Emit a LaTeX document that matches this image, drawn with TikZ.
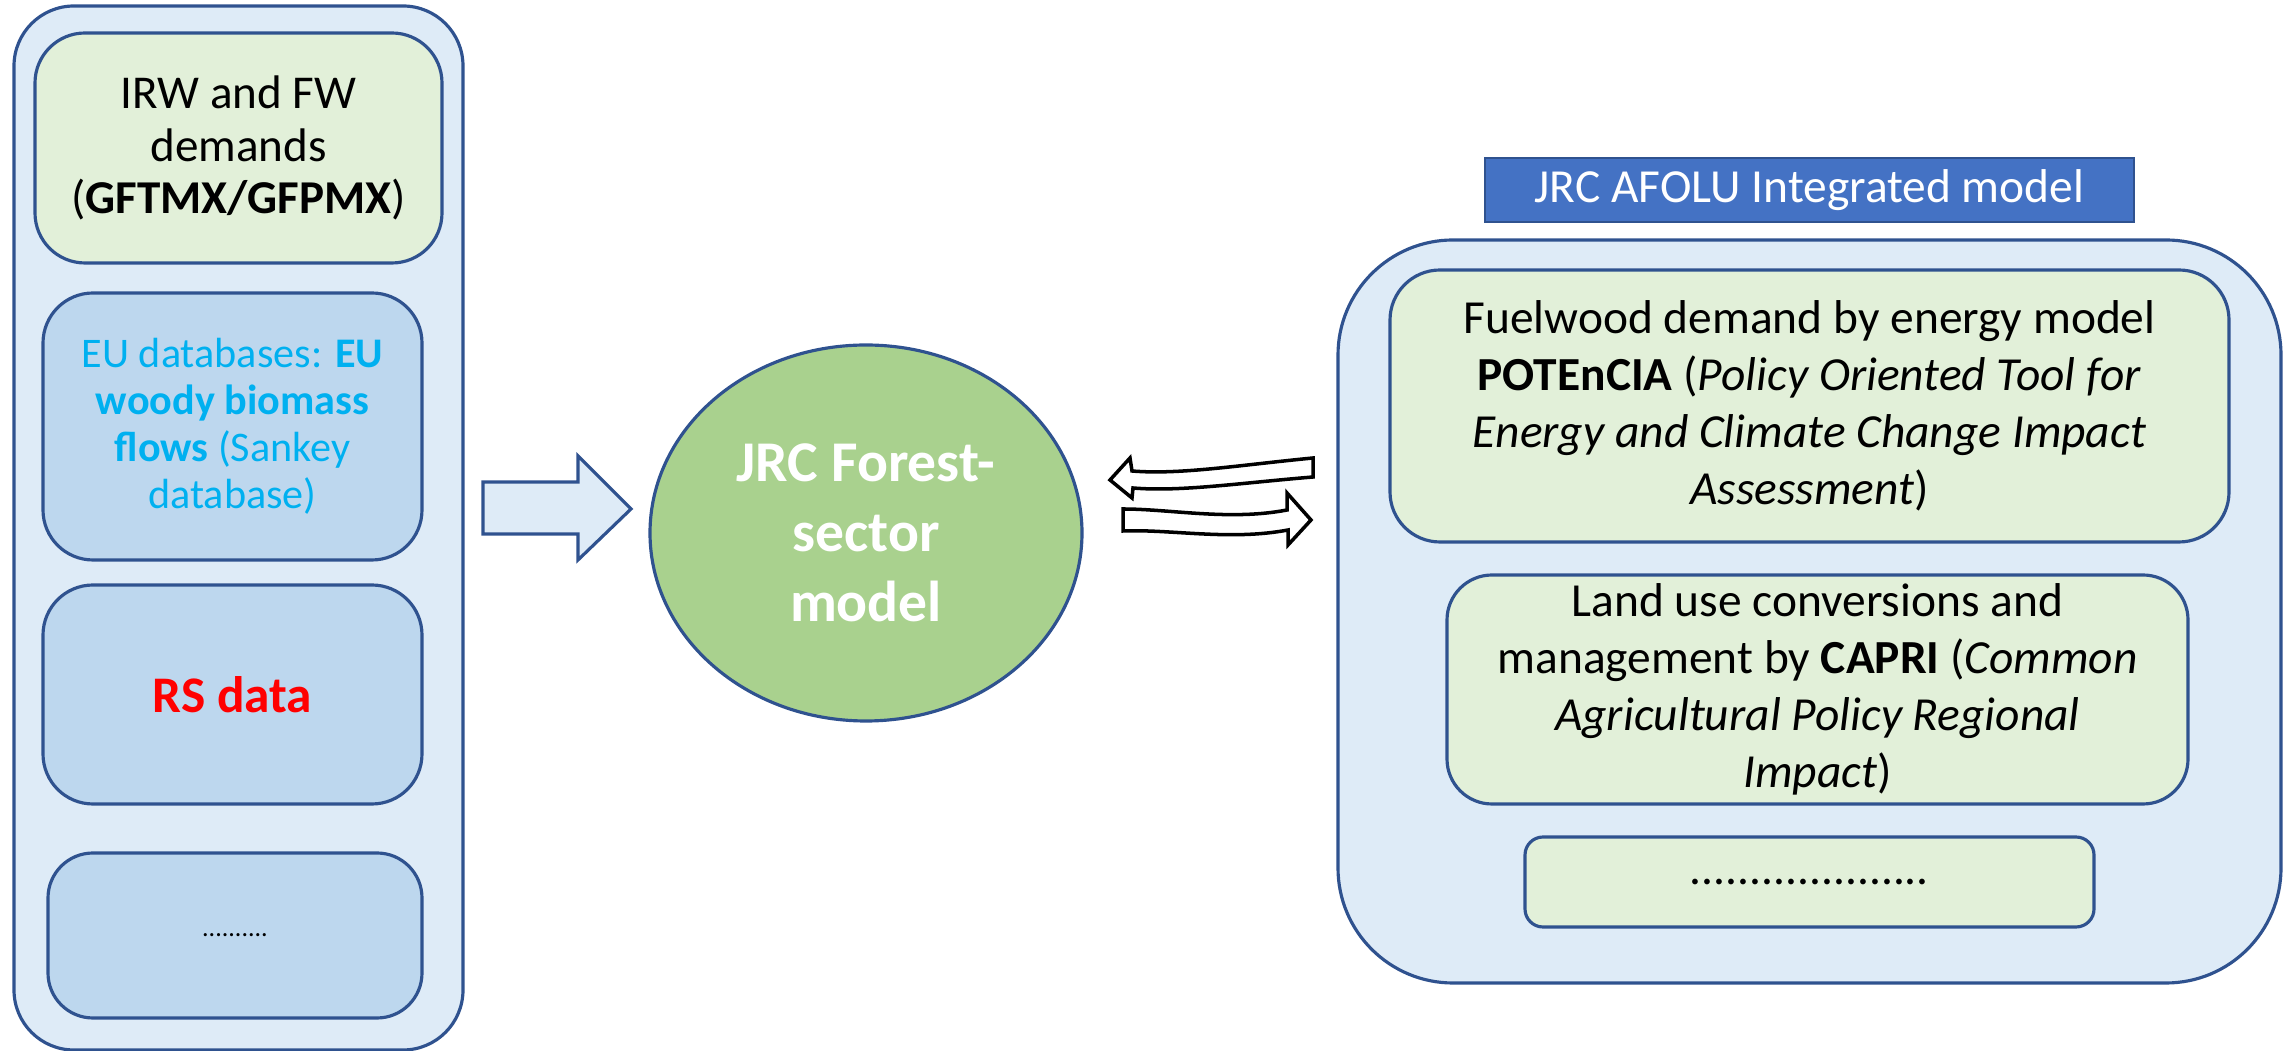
\documentclass[tikz,border=0pt]{standalone}
\usepackage{fontspec}
\setmainfont{Carlito}
\usepackage{tikz}
\usetikzlibrary{shapes.geometric}
\definecolor{panelblue}{HTML}{DEEBF7}
\definecolor{edgeblue}{HTML}{2F528F}
\definecolor{boxblue}{HTML}{BDD7EE}
\definecolor{boxgreen}{HTML}{E2F0D9}
\definecolor{modelgreen}{HTML}{A9D18E}
\definecolor{titleblue}{HTML}{4472C4}
\definecolor{textcyan}{HTML}{00B0F0}

\begin{document}
\begin{tikzpicture}[
	panel/.style={draw=edgeblue, fill=panelblue, line width=0.9pt, inner sep=0pt},
	inbox/.style={draw=edgeblue, line width=0.9pt, inner sep=0pt, align=center},
	wavyarrow/.style={draw=black, fill=white, line width=1pt, line join=miter}
]
\useasboundingbox (0,0) rectangle (22.92,10.51);

% left column of inputs
\node[panel, rounded corners=0.6cm, minimum width=4.49cm, minimum height=10.44cm] (inputs) at (2.385,5.23) {};
\node[inbox, fill=boxgreen, rounded corners=0.5cm, minimum width=4.07cm, minimum height=2.30cm,
	font=\fontsize{13.4}{15}\selectfont] (demand) at (2.385,9.03)
	{IRW and FW\\ demands\\ (\textbf{GFTMX/GFPMX})};
\node[inbox, fill=boxblue, rounded corners=0.5cm, minimum width=3.79cm, minimum height=2.67cm,
	font=\fontsize{12}{13.4}\selectfont, text=textcyan] (eudata) at (2.325,6.245)
	{EU databases: \textbf{EU}\\ \textbf{woody biomass}\\ \textbf{flows} (Sankey\\ database)};
\node[inbox, fill=boxblue, rounded corners=0.5cm, minimum width=3.79cm, minimum height=2.19cm,
	font=\fontsize{14.6}{18}\selectfont\bfseries, text=red] (rsdata) at (2.325,3.565) {RS data};
\node[inbox, fill=boxblue, rounded corners=0.45cm, minimum width=3.74cm, minimum height=1.65cm,
	font=\fontsize{7.4}{9}\selectfont] (moredata) at (2.35,1.155) {..........};

% block arrow into the model
\draw[draw=edgeblue, fill=panelblue, line width=0.9pt, line join=miter]
	(4.83,5.69) -- (5.78,5.69) -- (5.78,5.95) -- (6.31,5.42) -- (5.78,4.91) -- (5.78,5.17) -- (4.83,5.17) -- cycle;

% forest-sector model
\node[ellipse, draw=edgeblue, fill=modelgreen, line width=0.9pt, minimum width=4.32cm, minimum height=3.76cm,
	inner sep=0pt, align=center, text=white, font=\fontsize{16.4}{19.9}\selectfont\bfseries] (forest) at (8.66,5.18)
	{JRC Forest-\\ sector\\ model};

% two-way exchange
\draw[wavyarrow] (11.10,5.71) -- (11.30,5.93) -- (11.32,5.80)
	.. controls (11.8,5.76) and (12.4,5.86) .. (13.13,5.93) -- (13.13,5.74)
	.. controls (12.4,5.68) and (11.8,5.59) .. (11.33,5.63) -- (11.32,5.53) -- cycle;
\draw[wavyarrow] (11.23,5.42) .. controls (11.7,5.42) and (12.3,5.30) .. (12.87,5.41)
	-- (12.87,5.58) -- (13.11,5.31) -- (12.88,5.06) -- (12.88,5.21)
	.. controls (12.3,5.10) and (11.7,5.22) .. (11.23,5.20) -- cycle;

% AFOLU integrated model
\node[draw=edgeblue, fill=titleblue, line width=0.6pt, minimum width=6.49cm, minimum height=0.64cm, inner sep=0pt,
	text=white, font=\fontsize{13.5}{16}\selectfont] (afolutitle) at (18.095,8.61) {JRC AFOLU Integrated model};
\node[panel, rounded corners=1.15cm, minimum width=9.43cm, minimum height=7.43cm] (afolu) at (18.095,4.395) {};
\node[inbox, fill=boxgreen, rounded corners=0.5cm, minimum width=8.39cm, minimum height=2.72cm,
	font=\fontsize{13.5}{16.2}\selectfont] (potencia) at (18.095,6.45)
	{Fuelwood demand by energy model\\ \textbf{POTEnCIA} (\textit{Policy Oriented Tool for}\\
	\textit{Energy and Climate Change Impact}\\ \textit{Assessment})};
\node[inbox, fill=boxgreen, rounded corners=0.45cm, minimum width=7.41cm, minimum height=2.29cm,
	font=\fontsize{13.5}{16.2}\selectfont] (capri) at (18.175,3.615)
	{Land use conversions and\\ management by \textbf{CAPRI} (\textit{Common}\\
	\textit{Agricultural Policy Regional}\\ \textit{Impact})};
\node[inbox, fill=boxgreen, rounded corners=0.18cm, minimum width=5.69cm, minimum height=0.90cm,
	font=\fontsize{13.5}{16.2}\selectfont] (moremodels) at (18.095,1.69) {....................};
\end{tikzpicture}
\end{document}
